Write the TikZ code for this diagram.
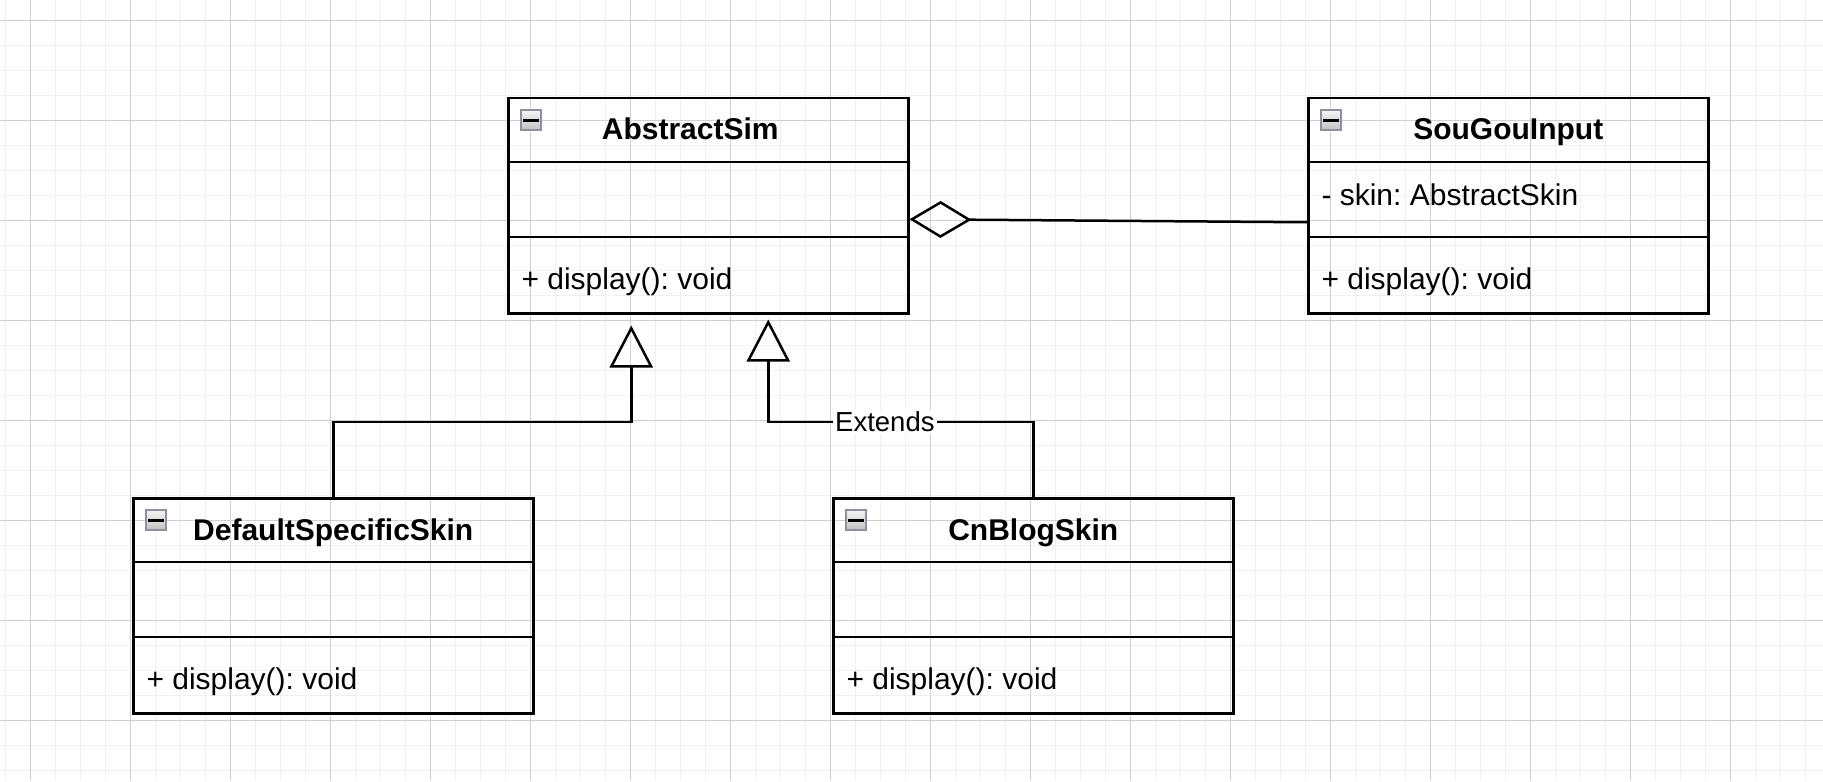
\documentclass[tikz,border=0pt]{standalone}
\usepackage{fontspec}
\setmainfont{Liberation Sans}
\usepackage{tikz}
\usetikzlibrary{arrows.meta}
\frenchspacing
\definecolor{gridminor}{RGB}{240,240,240}
\definecolor{gridmajor}{RGB}{208,208,208}
\definecolor{iconedge}{RGB}{138,146,160}
\newcommand{\umlclass}[6][0pt]{%
    \node[classbox] (#2) at (#3) {};
    \draw[classline] ([yshift=-32.5pt]#2.north west) -- ([yshift=-32.5pt]#2.north east);
    \draw[classline] ([yshift=-70pt]#2.north west) -- ([yshift=-70pt]#2.north east);
    \node[iconbox] (#2-icon) at ([xshift=6.5pt, yshift=-6pt]#2.north west) {};
    \draw[line width=1.5pt] ([xshift=1.5pt]#2-icon.west) -- ([xshift=-1.5pt]#2-icon.east);
    \node[titletext] (#2-title) at ([xshift=#1, yshift=-21.5pt]#2.north) {#4};
    \node[membertext] (#2-attr) at ([xshift=7pt, yshift=-54pt]#2.north west) {#5};
    \node[membertext] (#2-op) at ([xshift=7pt, yshift=-96pt]#2.north west) {#6};
}

\begin{document}
\begin{tikzpicture}[x=.5pt, y=-.5pt, line width=.5pt,
        classbox/.style={draw, line width=1.25pt, minimum width=200pt, minimum height=107.5pt, inner sep=0pt, anchor=north west},
        classline/.style={line width=1.25pt},
        iconbox/.style={draw=iconedge, line width=1pt, top color=black!4, bottom color=black!24, minimum size=10pt, inner sep=0pt, anchor=north west},
        titletext/.style={anchor=base, inner sep=0pt, font=\bfseries\fontsize{15pt}{18pt}\selectfont},
        membertext/.style={anchor=base west, inner sep=0pt, font=\fontsize{15pt}{18pt}\selectfont},
        edgelabel/.style={fill=white, inner sep=1pt, font=\fontsize{13.75pt}{16pt}\selectfont},
        aggrline/.style={line width=1.25pt, {Diamond[open, length=31pt, width=18.5pt]}-},
        inherit/.style={line width=1.25pt, -{Triangle[open, length=21pt, width=21.5pt]}}]
    \fill[white] (0,0) rectangle (1823,781);
    \useasboundingbox (0,0) rectangle (1823,781);

    % Raster.
    \foreach \i in {0,...,72}
    {
        \draw[color=gridminor, line width=.8pt] (5.5+25*\i,0) -- (5.5+25*\i,781);
    }
    \foreach \i in {0,...,30}
    {
        \draw[color=gridminor, line width=.8pt] (0,20.5+25*\i) -- (1823,20.5+25*\i);
    }
    \foreach \i in {0,...,17}
    {
        \draw[color=gridmajor] (30.5+100*\i,0) -- (30.5+100*\i,781);
    }
    \foreach \i in {0,...,7}
    {
        \draw[color=gridmajor] (0,20.5+100*\i) -- (1823,20.5+100*\i);
    }

    % Klassen.
    \umlclass[-9pt]{abs}{507,97}{AbstractSim}{}{+ display(): void}
    \umlclass{sgi}{1307,97}{SouGouInput}{- skin: AbstractSkin}{+ display(): void}
    \umlclass{dss}{132,497}{DefaultSpecificSkin}{}{+ display(): void}
    \umlclass{cbs}{832,497}{CnBlogSkin}{}{+ display(): void}

    % Beziehungen.
    \draw[aggrline] ([yshift=-6.75pt]abs.east) -- ([yshift=-8.25pt]sgi.west);

    \coordinate (absL) at ([xshift=-38.5pt, yshift=-5.5pt]abs.south);
    \coordinate (absR) at ([xshift=30pt, yshift=-2.5pt]abs.south);
    \draw[inherit] (dss.north) -- ++(0,-75) -| (absL);
    \draw[inherit] (cbs.north) -- ++(0,-75) -| node[edgelabel, pos=.28] (extends) {Extends} (absR);
\end{tikzpicture}
\end{document}
